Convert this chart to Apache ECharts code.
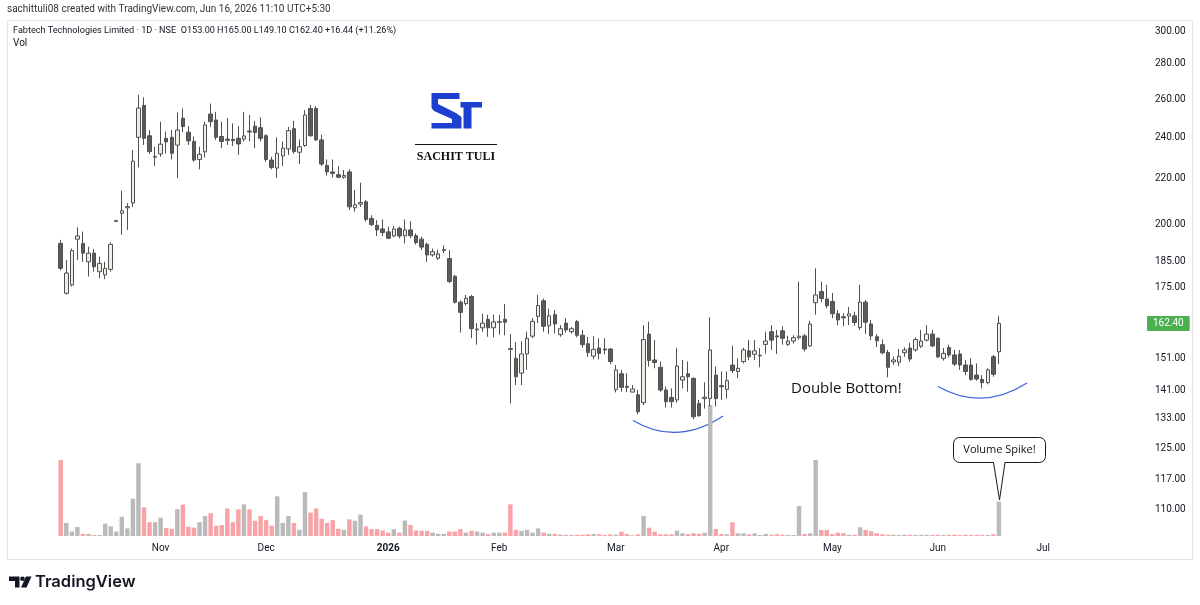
<!DOCTYPE html>
<html><head><meta charset="utf-8">
<script src="https://cdn.jsdelivr.net/npm/echarts@6/dist/echarts.min.js"></script>
<style>html,body{margin:0;padding:0;background:#fff;}#c{width:1200px;height:605px;}</style>
</head><body><div id="c"></div>
<script>
// ---- categories (trading days) ----
const leadDates = ['2025-09-23','2025-09-24','2025-09-25','2025-09-26','2025-09-29','2025-09-30','2025-10-01','2025-10-03','2025-10-06'];
const monthDays = [
  ['2025-10',[7,8,9,10,13,14,15,16,17,20,21,23,24,27,28,29,30,31]],
  ['2025-11',[3,4,6,7,10,11,12,13,14,17,18,19,20,21,24,25,26,27,28]],
  ['2025-12',[1,2,3,4,5,8,9,10,11,12,15,16,17,18,19,22,23,24,26,29,30,31]],
  ['2026-01',[1,2,5,6,7,8,9,12,13,14,16,19,20,21,22,23,27,28,29,30]],
  ['2026-02',[1,2,3,4,5,6,9,10,11,12,13,16,17,18,19,20,23,24,25,26,27]],
  ['2026-03',[2,4,5,6,9,10,11,12,13,16,17,18,19,20,23,24,25,27,30]],
  ['2026-04',[1,2,6,7,8,9,10,13,15,16,17,20,21,22,23,24,27,28,29,30]],
  ['2026-05',[4,5,6,7,8,11,12,13,14,15,18,19,20,21,22,25,26,27,29]],
  ['2026-06',[1,2,3,4,5,8,9,10,11,12,15,16]]
];
const futureDates = ['2026-06-17','2026-06-18','2026-06-19','2026-06-22','2026-06-23','2026-06-24','2026-06-25',
  '2026-07-01','2026-07-02','2026-07-03','2026-07-06','2026-07-07','2026-07-08','2026-07-09','2026-07-10','2026-07-13',
  '2026-07-14','2026-07-15','2026-07-16','2026-07-17','2026-07-20','2026-07-21','2026-07-22','2026-07-23','2026-07-24','2026-07-27'];

// ---- series values ----
const opens = [192.1,173.0,176.0,193.8,192.1,184.8,188.2,181.0,179.8,181.9,201.2,204.6,207.0,209.1,240.0,256.6,240.8,230.2,231.8,239.5,
240.0,236.1,249.8,242.6,237.9,229.1,232.8,252.0,248.9,240.4,239.1,239.0,239.5,239.1,243.2,245.7,244.9,240.8,228.8,225.0,
230.8,234.2,244.4,232.6,235.9,255.0,255.0,238.7,226.2,223.2,221.9,220.7,223.2,207.0,208.6,209.6,202.4,199.5,198.0,196.8,
195.1,198.3,195.2,197.6,195.2,193.8,191.7,187.5,186.2,189.2,186.1,179.3,169.8,169.3,171.8,160.2,160.9,163.8,160.9,162.8,
163.8,154.0,150.9,146.3,152.3,158.1,164.8,170.3,161.6,165.4,158.6,162.5,159.6,163.0,158.4,155.6,151.6,154.2,153.9,153.9,
141.3,146.1,142.3,140.6,139.8,137.5,158.8,150.4,148.1,141.2,139.0,138.3,144.2,146.1,144.7,137.3,138.7,138.7,145.7,142.5,
141.4,148.8,146.8,149.9,153.3,152.2,151.7,155.4,159.6,158.2,159.9,155.4,156.5,157.6,158.2,154.9,169.6,173.6,170.9,170.0,
165.7,164.7,164.9,165.0,161.0,169.8,162.2,157.9,155.3,152.8,149.8,149.7,152.7,154.2,153.6,154.8,156.8,158.8,157.4,150.9,
154.4,152.0,152.3,148.8,148.8,145.7,144.4,143.4,151.4,153.0];
const highs = [193.5,185.5,190.0,198.7,196.9,190.8,189.9,186.8,184.8,192.5,201.8,214.6,209.0,233.7,262.4,261.0,243.7,235.3,248.0,242.9,
243.7,252.9,255.0,245.7,240.4,235.3,248.0,257.6,253.2,248.0,249.8,247.1,245.7,253.2,251.5,248.4,250.3,241.6,230.4,240.0,
237.9,245.3,248.4,238.9,254.1,256.9,256.3,241.3,229.1,229.1,225.8,224.1,224.4,214.9,218.2,210.4,203.8,201.7,202.0,199.0,
199.2,199.0,202.0,201.3,196.2,194.8,192.4,190.0,189.6,191.3,189.4,179.8,170.4,172.4,172.4,162.5,165.7,165.4,165.4,165.4,
169.1,158.8,156.1,156.4,159.6,164.2,172.4,171.1,167.5,167.0,161.8,164.2,161.2,163.6,160.2,157.9,158.1,157.4,157.4,154.2,
148.8,147.3,146.3,142.7,141.2,161.8,163.0,156.8,149.9,142.2,141.7,154.3,150.4,149.9,145.0,138.3,143.5,164.5,148.3,146.8,
146.8,155.0,150.9,154.3,156.8,156.8,154.2,159.6,161.8,160.2,161.4,158.2,158.4,177.3,158.8,163.3,182.3,177.3,176.1,173.1,
167.0,165.9,168.1,166.4,176.1,170.6,163.6,158.8,157.0,153.6,151.5,153.9,154.4,155.9,157.7,160.2,161.8,160.2,157.7,154.2,
155.3,153.6,153.6,150.4,150.9,149.3,145.7,147.8,152.0,165.0];
const lows = [181.5,172.5,175.5,185.5,184.8,179.2,181.0,178.5,178.2,181.0,201.0,195.6,197.6,207.3,225.3,236.2,231.8,226.0,230.4,232.1,
229.1,220.2,242.6,236.2,228.0,224.4,230.1,245.3,238.7,234.6,236.2,235.7,231.3,237.9,237.9,234.6,237.9,228.0,224.4,220.5,
226.0,231.3,231.8,226.9,235.3,240.3,238.2,226.0,221.5,220.7,220.4,220.0,206.0,205.3,207.4,201.1,199.2,195.1,195.1,193.8,
194.6,194.2,192.1,194.2,191.7,189.4,184.8,186.8,185.5,188.2,176.8,169.3,159.3,168.6,157.4,155.3,159.6,157.9,157.7,158.6,
158.4,137.3,142.7,142.7,147.3,157.4,162.5,159.6,158.8,159.0,157.9,159.3,159.0,157.7,154.3,151.4,150.6,150.6,152.2,149.1,
140.5,140.7,140.6,140.5,134.2,136.8,148.3,147.8,140.7,136.1,136.1,137.5,141.7,140.7,132.8,133.5,135.8,136.4,136.4,138.3,
138.7,146.3,144.7,149.3,150.4,150.4,148.1,152.4,153.6,152.3,155.3,154.9,155.6,157.0,153.1,154.5,165.4,169.8,167.6,164.2,
161.8,161.4,161.8,161.6,160.2,158.8,156.8,154.5,152.2,145.0,148.9,148.5,151.4,149.9,153.1,154.2,156.3,154.5,150.9,150.2,
151.2,148.5,147.3,145.7,144.0,144.0,141.7,142.9,145.2,149.1];
const closes = [182.3,180.5,189.2,195.1,188.2,188.2,182.9,184.2,182.3,191.7,201.5,205.7,207.5,228.3,255.2,239.5,232.9,230.6,236.6,237.7,
232.1,243.7,245.5,238.2,228.8,231.6,246.3,248.0,240.0,237.9,238.5,238.3,236.7,240.7,242.7,242.4,239.5,229.1,225.3,232.1,
234.6,243.4,232.9,235.3,251.5,240.8,238.7,226.9,223.2,222.5,220.7,221.5,207.4,208.3,209.3,202.0,199.8,197.6,196.5,194.2,
198.0,195.1,197.6,195.2,192.4,190.6,187.5,188.8,187.9,189.6,177.3,169.8,166.2,171.2,160.6,160.5,162.5,160.9,162.9,163.0,
162.8,153.8,145.2,152.3,157.4,163.1,168.6,161.4,165.0,162.2,160.6,160.2,160.6,158.4,155.3,152.8,153.8,152.5,153.6,149.9,
147.3,142.0,142.0,141.5,134.9,157.0,150.2,149.6,141.2,137.8,137.8,148.5,145.2,145.2,133.5,133.8,139.1,153.6,138.7,142.2,
144.0,147.1,147.8,153.6,151.4,153.3,151.9,156.5,156.8,157.9,157.4,156.5,157.6,158.1,153.9,162.2,172.4,171.1,168.5,165.7,
163.6,164.3,165.7,162.7,169.8,162.8,158.2,156.6,152.7,148.1,150.4,151.6,153.6,150.7,157.0,156.5,158.8,154.9,151.4,152.5,
152.0,149.1,148.8,146.8,144.4,144.5,143.4,147.3,145.96,162.4];
const volumes = [759,131,45,90,21,21,10,10,124,97,45,193,76,372,728,286,138,138,183,79,
72,269,314,93,83,138,200,228,103,110,276,138,266,317,266,152,200,159,103,397,
131,200,131,62,438,234,276,172,131,159,72,62,166,152,214,97,69,69,55,34,
69,34,155,110,55,52,52,34,21,21,45,45,69,34,52,45,34,21,34,34,
34,317,62,52,62,34,76,34,21,21,13,13,10,13,13,17,20,17,10,17,
13,43,20,7,17,200,83,43,17,17,17,53,27,20,27,23,33,1310,70,20,
17,137,27,27,17,27,10,20,13,17,13,10,10,300,20,27,760,60,60,20,
33,27,13,13,87,60,47,27,17,13,12,10,13,12,10,12,13,10,12,10,
12,13,10,12,10,12,10,10,17,343];
const priceTicks = [110,117,125,133,141,151,175,185,200,220,240,260,280,300];
const monthNames = ['Jan','Feb','Mar','Apr','May','Jun','Jul','Aug','Sep','Oct','Nov','Dec'];

// ---- build ----
const tradeDates = [];
monthDays.forEach(([m, ds]) => ds.forEach(d => tradeDates.push(m + '-' + String(d).padStart(2,'0'))));
const cats = leadDates.concat(tradeDates, futureDates);
const lead = leadDates.length;
const candleData = cats.map((c, k) => {
  const i = k - lead;
  if (i < 0 || i >= opens.length) return '-';
  return [opens[i], closes[i], lows[i], highs[i]];
});
const volData = cats.map((c, k) => {
  const i = k - lead;
  if (i < 0 || i >= volumes.length) return '-';
  return { value: volumes[i], itemStyle: { color: closes[i] >= opens[i] ? '#bababa' : '#f7a3a8' } };
});
const labelIdx = new Set();
cats.forEach((c, k) => {
  if (k > 0 && c.slice(0,7) !== cats[k-1].slice(0,7) && c >= '2025-11') labelIdx.add(k);
});
const n = opens.length - 1;
const lastC = closes[n], prevC = closes[n-1];
const chg = lastC - prevC, pct = chg / prevC * 100;
const legendText = 'Fabtech Technologies Limited · 1D · NSE  O' + opens[n].toFixed(2) + ' H' + highs[n].toFixed(2) +
  ' L' + lows[n].toFixed(2) + ' C' + lastC.toFixed(2) + ' ' + (chg >= 0 ? '+' : '') + chg.toFixed(2) + ' (' + (pct >= 0 ? '+' : '') + pct.toFixed(2) + '%)';

const GL = 8, GR = 54;
const chart = echarts.init(document.getElementById('c'), null, { renderer: 'canvas' });
const txt = '#131722';
chart.setOption({
  animation: false,
  backgroundColor: '#ffffff',
  grid: [
    { left: GL, right: GR, top: 31, height: 478 },
    { left: GL, right: GR, top: 405, height: 131 }
  ],
  xAxis: [
    { type: 'category', gridIndex: 0, data: cats, boundaryGap: true,
      axisLine: { show: false }, axisTick: { show: false }, axisLabel: { show: false }, splitLine: { show: false } },
    { type: 'category', gridIndex: 1, data: cats, boundaryGap: true,
      axisLine: { show: false }, axisTick: { show: false }, splitLine: { show: false },
      axisLabel: {
        show: true, margin: 7, color: txt, fontSize: 10, fontFamily: 'Roboto',
        interval: (idx) => labelIdx.has(idx),
        formatter: (val) => {
          const m = parseInt(val.slice(5,7), 10) - 1;
          return m === 0 ? '{b|' + val.slice(0,4) + '}' : monthNames[m];
        },
        rich: { b: { fontWeight: 'bold', fontSize: 10, color: txt, fontFamily: 'Roboto' } }
      } }
  ],
  yAxis: [
    { type: 'log', logBase: 10, gridIndex: 0, position: 'right', min: 110, max: 300,
      axisLine: { show: false }, axisTick: { show: false }, splitLine: { show: false },
      axisLabel: { customValues: priceTicks, formatter: v => Number(v).toFixed(2), color: txt, fontSize: 10, fontFamily: 'Roboto', margin: 9 } },
    { type: 'value', gridIndex: 1, min: 0, max: Math.max(...volumes), show: false }
  ],
  series: [
    { type: 'bar', xAxisIndex: 1, yAxisIndex: 1, data: volData, barWidth: '80%', z: 1, silent: true },
    { type: 'candlestick', xAxisIndex: 0, yAxisIndex: 0, data: candleData, barWidth: 4, z: 3,
      itemStyle: { color: '#f1ece4', color0: '#5c5c5c', borderColor: '#505050', borderColor0: '#505050', borderColorDoji: '#505050', borderWidth: 1 },
      markLine: { silent: true, symbol: 'none', animation: false,
        lineStyle: { width: 0, color: 'rgba(0,0,0,0)', type: 'solid' },
        label: { show: true, position: 'end', distance: 1, formatter: lastC.toFixed(2), color: '#ffffff', opacity: 1, fontSize: 10, fontFamily: 'Roboto',
          backgroundColor: '#4caf50', padding: [3, 6, 2, 6], borderRadius: 1 },
        data: [{ yAxis: lastC }] } }
  ],
  graphic: [
    { type: 'rect', shape: { x: 7.5, y: 20.5, width: 1185, height: 539 }, style: { fill: 'none', stroke: '#e4e4e4', lineWidth: 1 }, silent: true, z: -1 },
    { type: 'text', x: 7, y: 9, style: { text: 'sachittuli08 created with TradingView.com, Jun 16, 2026 11:10 UTC+5:30', font: '10px Roboto', fill: '#333', verticalAlign: 'middle' } },
    { type: 'text', x: 13, y: 31, style: { text: legendText, font: '9.1px Roboto', fill: txt, verticalAlign: 'middle' } },
    { type: 'text', x: 13, y: 43, style: { text: 'Vol', font: '10px Roboto', fill: txt, verticalAlign: 'middle' } },
    // logo
    { type: 'polygon', shape: { points: [[431.5,93],[459.5,93],[459.5,99],[438,99],[438,104],[456,113],[461.5,117],[461.5,128.5],[431.5,128.5],[431.5,123],[452,123],[452,119],[434,111],[431.5,108]] }, style: { fill: '#1d3fcf' } },
    { type: 'polygon', shape: { points: [[460.5,102],[482,102],[482,107.5],[471.5,107.5],[471.5,128.5],[463.5,128.5],[463.5,107.5],[460.5,107.5]] }, style: { fill: '#1d3fcf' } },
    { type: 'line', shape: { x1: 415, y1: 144.5, x2: 497, y2: 144.5 }, style: { stroke: '#111', lineWidth: 1 } },
    { type: 'text', x: 456, y: 157, style: { text: 'SACHIT TULI', font: 'bold 12px "Liberation Serif"', fill: '#111', align: 'center', verticalAlign: 'middle' } },
    // annotations
    { type: 'text', x: 791, y: 389, style: { text: 'Double Bottom!', font: '15px "Open Sans"', fill: '#111', verticalAlign: 'middle' } },
    { type: 'bezierCurve', shape: { x1: 633, y1: 420.5, cpx1: 677, cpy1: 446.5, x2: 723, y2: 416 }, style: { stroke: '#3d5fdc', lineWidth: 1.2, fill: 'none' } },
    { type: 'bezierCurve', shape: { x1: 938, y1: 386.5, cpx1: 982.5, cpy1: 411.5, x2: 1027, y2: 383 }, style: { stroke: '#3d5fdc', lineWidth: 1.2, fill: 'none' } },
    { type: 'rect', shape: { x: 953.5, y: 437.5, width: 92, height: 25, r: 6 }, style: { fill: '#fff', stroke: '#1a1a1a', lineWidth: 1 }, z: 10 },
    { type: 'polygon', shape: { points: [[993.5,461],[999.5,499],[1005,461]] }, style: { fill: '#fff' }, z: 11 },
    { type: 'polyline', shape: { points: [[993.5,462.5],[999.5,500],[1005,462.5]] }, style: { stroke: '#1a1a1a', lineWidth: 1, fill: 'none' }, z: 11 },
    { type: 'text', x: 999.5, y: 450, style: { text: 'Volume Spike!', font: '500 11px "Open Sans"', fill: '#111', align: 'center', verticalAlign: 'middle' }, z: 12 },
    // footer logo
    { type: 'polygon', shape: { points: [[9,576.5],[19.5,576.5],[19.5,587.5],[15,587.5],[15,581],[9,581]] }, style: { fill: '#131722' } },
    { type: 'circle', shape: { cx: 22.5, cy: 578.8, r: 2.3 }, style: { fill: '#131722' } },
    { type: 'polygon', shape: { points: [[26,576.5],[31.5,576.5],[26.5,587.5],[21,587.5]] }, style: { fill: '#131722' } },
    { type: 'text', x: 35, y: 582, style: { text: 'TradingView', font: '600 16.5px Inter', fill: '#131722', verticalAlign: 'middle' } }
  ]
});
</script></body></html>
